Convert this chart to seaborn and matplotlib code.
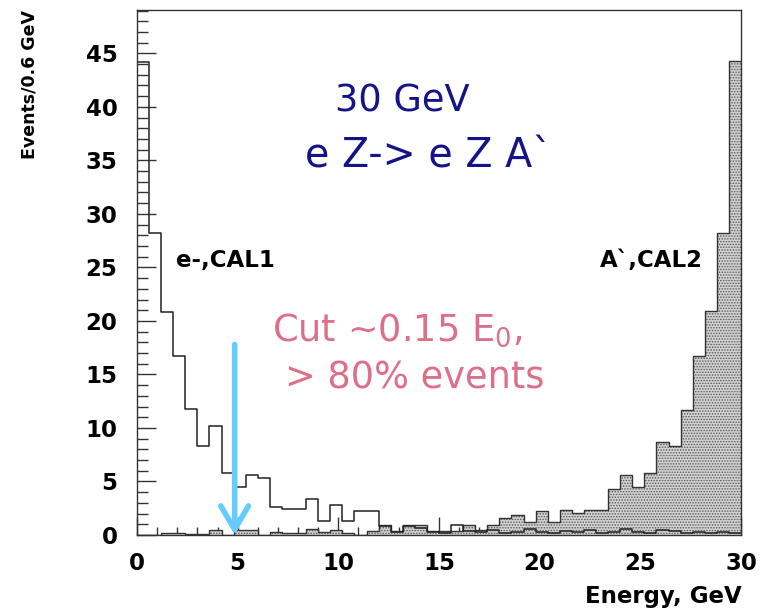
import numpy as np
import pandas as pd
import matplotlib
matplotlib.use("Agg")
import matplotlib.pyplot as plt
import seaborn as sns

# ---------------- data (50 bins, 0.6 GeV each, 0..30 GeV) ----------------
e_counts = [44.2, 28.2, 20.8, 16.7, 11.8, 8.3, 10.2, 5.8, 4.5, 5.6,
            5.3, 2.6, 2.4, 2.4, 3.4, 1.3, 2.8, 1.3, 2.2, 2.2,
            0.8, 0.3, 0.8, 0.7, 0.3, 0.2, 0.9, 0.4, 0.3, 0.5,
            0.2, 0.3, 0.6, 0.3, 0.2, 0.4, 0.3, 0.5, 0.2, 0.3,
            0.6, 0.3, 0.2, 0.5, 0.4, 0.2, 0.3, 0.2, 0.3, 0.2]
a_counts = [0.0, 0.0, 0.2, 0.2, 0.1, 0.1, 0.5, 0.0, 0.5, 0.5,
            0.0, 0.3, 0.2, 0.2, 0.6, 0.3, 0.5, 0.2, 0.0, 0.4,
            0.9, 0.4, 0.9, 0.9, 0.4, 0.4, 0.4, 0.9, 0.5, 0.9,
            1.6, 1.9, 1.2, 2.2, 1.2, 2.3, 2.1, 2.3, 2.3, 4.3,
            5.6, 4.5, 5.8, 8.7, 8.3, 11.7, 16.7, 20.9, 28.2, 44.3]
e_min, e_max, n_bins = 0.0, 30.0, 50
x_ticks = [0, 5, 10, 15, 20, 25, 30]
y_ticks = [0, 5, 10, 15, 20, 25, 30, 35, 40, 45]
cut_energy = 4.85
arrow_top = 17.8

edges = np.linspace(e_min, e_max, n_bins + 1)
centers = 0.5 * (edges[:-1] + edges[1:])
df = pd.DataFrame({"energy": centers, "e_counts": e_counts, "a_counts": a_counts})

# ---------------- style ----------------
sns.set_style("white")
plt.rcParams["font.family"] = ["DejaVu Sans"]
plt.rcParams["text.color"] = "black"
plt.rcParams["xtick.color"] = "black"
plt.rcParams["ytick.color"] = "black"
plt.rcParams["hatch.color"] = "#555555"
plt.rcParams["hatch.linewidth"] = 0.7

W, H = 761, 610
fig = plt.figure(figsize=(W / 100, H / 100), dpi=100)
ax = fig.add_axes([137 / W, 1 - 535 / H, (741 - 137) / W, (535 - 10) / H])

hist_kw = dict(bins=n_bins, binrange=(e_min, e_max), element="step")

# A` , CAL2 (filled, dotted)
sns.histplot(data=df, x="energy", weights="a_counts", fill=True, color="#d2d2d2",
             alpha=1.0, linewidth=0, ax=ax, **hist_kw)
for coll in ax.collections:
    coll.set_hatch("......")
    coll.set_edgecolor("#555555")
    coll.set_linewidth(0)
sns.histplot(data=df, x="energy", weights="a_counts", fill=False, color="#333333",
             linewidth=1.0, ax=ax, **hist_kw)
# e- , CAL1 (open line)
sns.histplot(data=df, x="energy", weights="e_counts", fill=False, color="#222222",
             linewidth=1.1, ax=ax, **hist_kw)

ax.set_xlim(e_min, e_max)
ax.set_ylim(0, 49.05)
ax.set_xlabel("")
ax.set_ylabel("")
ax.set_xticks(x_ticks)
ax.set_yticks(y_ticks)
ax.set_xticks(np.arange(0, 31, 1), minor=True)
ax.set_yticks(np.arange(0, 50, 1), minor=True)
ax.set_xticklabels([str(t) for t in x_ticks], fontsize=16.5, fontweight="bold", color="black")
ax.set_yticklabels([str(t) for t in y_ticks], fontsize=16.5, fontweight="bold", color="black")
ax.tick_params(axis="both", which="both", direction="in", color="#333333",
               top=False, right=False, bottom=True, left=True)
ax.tick_params(axis="y", which="major", length=14, width=1, pad=14)
ax.tick_params(axis="y", which="minor", length=8, width=1)
ax.tick_params(axis="x", which="major", length=13, width=1, pad=12)
ax.tick_params(axis="x", which="minor", length=6, width=1)
for s in ax.spines.values():
    s.set_visible(True)
    s.set_color("#333333")
    s.set_linewidth(1.0)

# cut arrow
ax.annotate("", xy=(cut_energy, 0), xytext=(cut_energy, arrow_top),
            arrowprops=dict(arrowstyle="->,head_length=1.7,head_width=1.0",
                            color="#66ccff", lw=4, shrinkA=0, shrinkB=0))

def fx(x):
    return x / W

def fy(y):
    return 1 - y / H

navy = "#141488"
pink = "#de6f8a"
fig.text(fx(335), fy(101), "30 GeV", color=navy, fontsize=26.5, ha="left", va="center")
fig.text(fx(305), fy(157), "e Z-> e Z A`", color=navy, fontsize=28.5, ha="left", va="center")
fig.text(fx(176), fy(260), "e-,CAL1", fontsize=16.5, fontweight="bold", ha="left", va="center")
fig.text(fx(703), fy(260), "A`,CAL2", fontsize=16.5, fontweight="bold", ha="right", va="center")
fig.text(fx(272), fy(330), "Cut ~0.15 E$_0$,", color=pink, fontsize=26.5, ha="left", va="center")
fig.text(fx(285), fy(378), "> 80% events", color=pink, fontsize=26.5, ha="left", va="center")
fig.text(fx(29), fy(10), "Events/0.6 GeV", fontsize=12.5, fontweight="bold",
         rotation=90, ha="center", va="top")
fig.text(fx(742), fy(597), "Energy, GeV", fontsize=16.5, fontweight="bold",
         ha="right", va="center")

fig.savefig("out.png", dpi=100)
